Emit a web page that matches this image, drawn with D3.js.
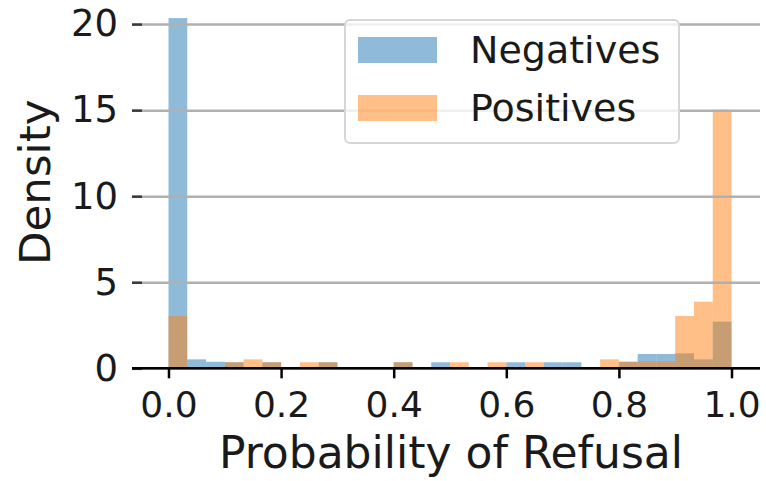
<!DOCTYPE html>
<html>
<head>
<meta charset="utf-8">
<script src="https://cdn.jsdelivr.net/npm/d3@7"></script>
<style>
  body { margin: 0; background: #fff; }
  text { font-family: "DejaVu Sans", sans-serif; }
</style>
</head>
<body>
<div id="chart"></div>
<script>
// 30 equal bins over [0, 1]
var binCount = 30;
var negatives = [20.35, 0.52, 0.38, 0.35, 0, 0.35, 0, 0, 0.35, 0,
                 0, 0, 0.35, 0, 0.35, 0, 0, 0, 0.35, 0,
                 0.35, 0.35, 0, 0, 0.38, 0.83, 0.83, 0.87, 0.52, 2.71];
var positives = [3.04, 0, 0, 0.35, 0.52, 0.35, 0, 0.35, 0.35, 0,
                 0, 0, 0.35, 0, 0, 0.35, 0, 0.35, 0, 0.35,
                 0, 0, 0, 0.52, 0.38, 0.40, 0.40, 3.04, 3.87, 15.02];
var seriesNames = ["Negatives", "Positives"];
var xTicks = [0, 0.2, 0.4, 0.6, 0.8, 1.0];
var yTicks = [0, 5, 10, 15, 20];

var W = 766, H = 481;
var margin = {top: 0, right: 6, bottom: 112.7, left: 132},
    width = W - margin.left - margin.right,
    height = H - margin.top - margin.bottom;

var colors = ["#1f77b4", "#ff7f0e"];

var svg = d3.select("#chart").append("svg")
    .attr("width", W)
    .attr("height", H)
  .append("g")
    .attr("transform", "translate(" + margin.left + "," + margin.top + ")");

var x = d3.scaleLinear().domain([-0.0648, 1.0506]).range([0, width]);
var y = d3.scaleLinear().domain([0, 21.4]).range([height, 0]);

var binW = 1 / binCount;

function drawBars(values, color, cls) {
  svg.selectAll("." + cls)
    .data(values)
    .join("rect")
    .attr("class", cls)
    .attr("x", function(d, i){ return x(i * binW); })
    .attr("width", function(d, i){ return x((i + 1) * binW) - x(i * binW); })
    .attr("y", function(d){ return y(d); })
    .attr("height", function(d){ return height - y(d); })
    .attr("fill", color)
    .attr("fill-opacity", 0.5);
}

drawBars(negatives, colors[0], "neg");
drawBars(positives, colors[1], "pos");

// gridlines (drawn over the bars, like matplotlib's default)
var grid = svg.append("g")
    .call(d3.axisLeft(y).tickValues(yTicks).tickSize(-width).tickFormat(""));
grid.select(".domain").remove();
grid.selectAll("line").attr("stroke", "#b0b0b0").attr("stroke-width", 2.5);

// y axis: short inward ticks, labels on the left
var yAxis = svg.append("g")
    .call(d3.axisLeft(y).tickValues(yTicks).tickSize(-10).tickPadding(14));
yAxis.select(".domain").remove();
yAxis.selectAll("line").attr("stroke", "#3a3a3a").attr("stroke-width", 2.5);
yAxis.selectAll("text")
    .attr("font-size", "37px")
    .attr("font-family", "DejaVu Sans")
    .attr("fill", "#1a1a1a");

// x axis
var xAxis = svg.append("g")
    .attr("transform", "translate(0," + height + ")")
    .call(d3.axisBottom(x).tickValues(xTicks).tickSize(10).tickFormat(d3.format(".1f")));
xAxis.select(".domain").attr("stroke", "#000").attr("stroke-width", 2.5)
    .attr("d", "M0,0H" + width);
xAxis.selectAll("line").attr("stroke", "#000").attr("stroke-width", 2.5);
xAxis.selectAll("text")
    .attr("font-size", "36px")
    .attr("font-family", "DejaVu Sans")
    .attr("fill", "#1a1a1a")
    .attr("y", 49)
    .attr("dy", 0);

// axis titles
svg.append("text")
    .attr("x", width / 2 + 5)
    .attr("y", height + 100)
    .attr("text-anchor", "middle")
    .attr("font-size", "44px")
    .attr("fill", "#1a1a1a")
    .text("Probability of Refusal");

svg.append("text")
    .attr("transform", "translate(" + (50 - margin.left) + "," + (y(10) - 14) + ") rotate(-90)")
    .attr("text-anchor", "middle")
    .attr("font-size", "43.5px")
    .attr("fill", "#1a1a1a")
    .text("Density");

// legend
var legend = svg.append("g")
    .attr("transform", "translate(" + (345 - margin.left) + ",20)");
legend.append("rect")
    .attr("width", 334)
    .attr("height", 123)
    .attr("rx", 5)
    .attr("fill", "#fff")
    .attr("fill-opacity", 0.8)
    .attr("stroke", "#d6d6d6")
    .attr("stroke-width", 2);

var items = legend.selectAll(".item")
    .data(seriesNames)
    .join("g")
    .attr("class", "item")
    .attr("transform", function(d, i){ return "translate(13," + (17 + i * 58) + ")"; });
items.append("rect")
    .attr("width", 79)
    .attr("height", 26)
    .attr("fill", function(d, i){ return colors[i]; })
    .attr("fill-opacity", 0.5);
items.append("text")
    .attr("x", 112)
    .attr("y", 26)
    .attr("font-size", "38px")
    .attr("fill", "#1a1a1a")
    .text(function(d){ return d; });
</script>
</body>
</html>
